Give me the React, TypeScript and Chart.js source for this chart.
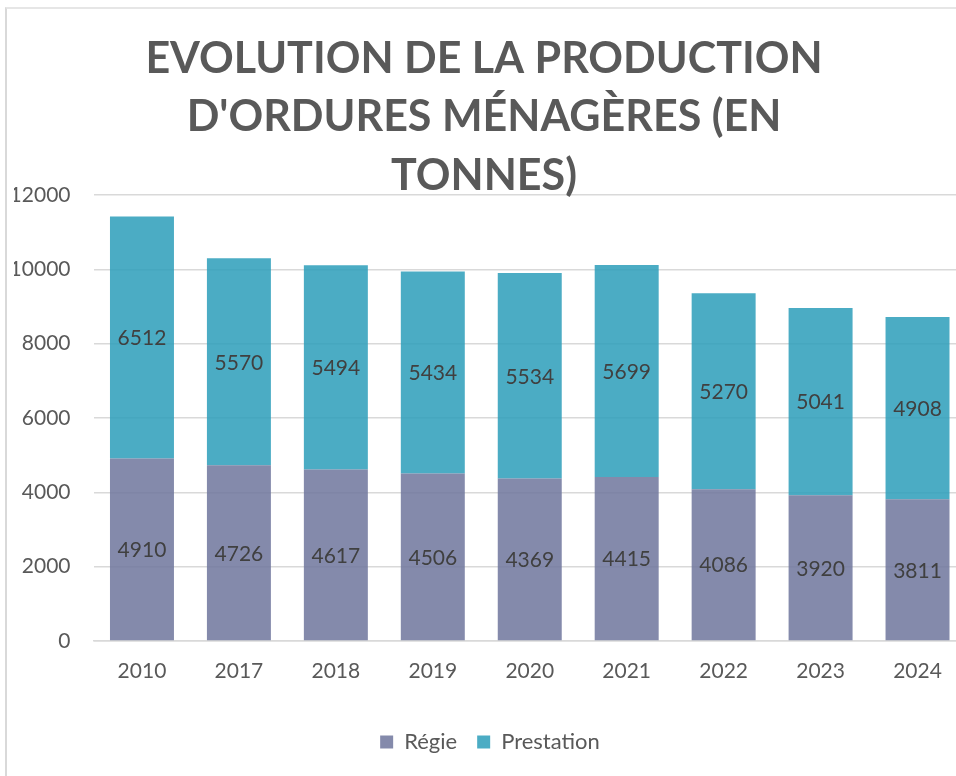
import React, { useEffect, useRef } from "react";
import { Chart, registerables } from "chart.js";

Chart.register(...registerables);

const categories = ["2010", "2017", "2018", "2019", "2020", "2021", "2022", "2023", "2024"];
const regie = [4910, 4726, 4617, 4506, 4369, 4415, 4086, 3920, 3811];
const prestation = [6512, 5570, 5494, 5434, 5534, 5699, 5270, 5041, 4908];
const seriesNames = ["Régie", "Prestation"];
const titleLines = ["EVOLUTION DE LA PRODUCTION", "D'ORDURES MÉNAGÈRES (EN", "TONNES)"];

const FONT = "Lato, 'Open Sans', sans-serif";

const titlePlugin = {
  id: "customTitle",
  afterDraw(chart: any) {
    const ctx = chart.ctx;
    ctx.save();
    ctx.font = `bold 43px ${FONT}`;
    ctx.fillStyle = "#595959";
    ctx.textAlign = "center";
    ctx.textBaseline = "middle";
    titleLines.forEach((line, i) => {
      ctx.fillText(line, 484, 59 + i * 58.5);
    });
    ctx.restore();
  },
};

const labelPlugin = {
  id: "barLabels",
  afterDatasetsDraw(chart: any) {
    const ctx = chart.ctx;
    ctx.save();
    ctx.font = `21px ${FONT}`;
    ctx.fillStyle = "#404040";
    ctx.textAlign = "center";
    ctx.textBaseline = "middle";
    chart.data.datasets.forEach((ds: any, di: number) => {
      const meta = chart.getDatasetMeta(di);
      meta.data.forEach((bar: any, i: number) => {
        const y = (bar.y + bar.base) / 2;
        ctx.fillText(String(ds.data[i]), bar.x, y + 1);
      });
    });
    ctx.restore();
  },
};

export default function App() {
  const ref = useRef<HTMLCanvasElement | null>(null);
  useEffect(() => {
    if (!ref.current) return;
    const chart = new Chart(ref.current, {
      type: "bar",
      data: {
        labels: categories,
        datasets: [
          {
            label: seriesNames[0],
            data: regie,
            backgroundColor: "rgba(110,118,156,0.85)",
            categoryPercentage: 1,
            barPercentage: 0.66,
          },
          {
            label: seriesNames[1],
            data: prestation,
            backgroundColor: "rgba(43,157,186,0.85)",
            categoryPercentage: 1,
            barPercentage: 0.66,
          },
        ],
      },
      options: {
        responsive: false,
        animation: false,
        devicePixelRatio: 1,
        layout: { padding: { top: 195, left: 14, right: 5, bottom: 13 } },
        scales: {
          x: {
            stacked: true,
            grid: { display: false },
            border: { display: true, color: "#d9d9d9", width: 1.5 },
            ticks: { color: "#595959", font: { family: FONT, size: 21 }, padding: 10 },
            afterFit: (s: any) => {
              s.height = 70;
            },
          },
          y: {
            stacked: true,
            min: 0,
            max: 12000,
            grid: { color: "#d9d9d9", lineWidth: 1.5, drawTicks: false },
            border: { display: false },
            ticks: {
              stepSize: 2000,
              color: "#595959",
              font: { family: FONT, size: 21 },
              padding: 23,
              callback: (v: any) => String(v),
            },
            afterFit: (s: any) => {
              s.width = 79.5;
            },
          },
        },
        plugins: {
          title: { display: false },
          tooltip: { enabled: false },
          legend: {
            position: "bottom",
            labels: {
              boxWidth: 13,
              boxHeight: 13,
              padding: 20,
              color: "#595959",
              font: { family: FONT, size: 22 },
            },
          },
        },
      },
      plugins: [titlePlugin, labelPlugin],
    });
    return () => chart.destroy();
  }, []);

  return (
    <div
      style={{
        position: "fixed",
        left: 0,
        top: 0,
        width: 956,
        height: 776,
        overflow: "hidden",
        background: "#fff",
      }}
    >
      <div
        style={{
          position: "absolute",
          left: 5,
          top: 7,
          right: -10,
          bottom: -10,
          borderLeft: "2px solid #d9d9d9",
          borderTop: "2px solid #e6e6e6",
        }}
      />
      <canvas ref={ref} width={971.5} height={776} style={{ position: "absolute", left: 0, top: 0 }} />
    </div>
  );
}
